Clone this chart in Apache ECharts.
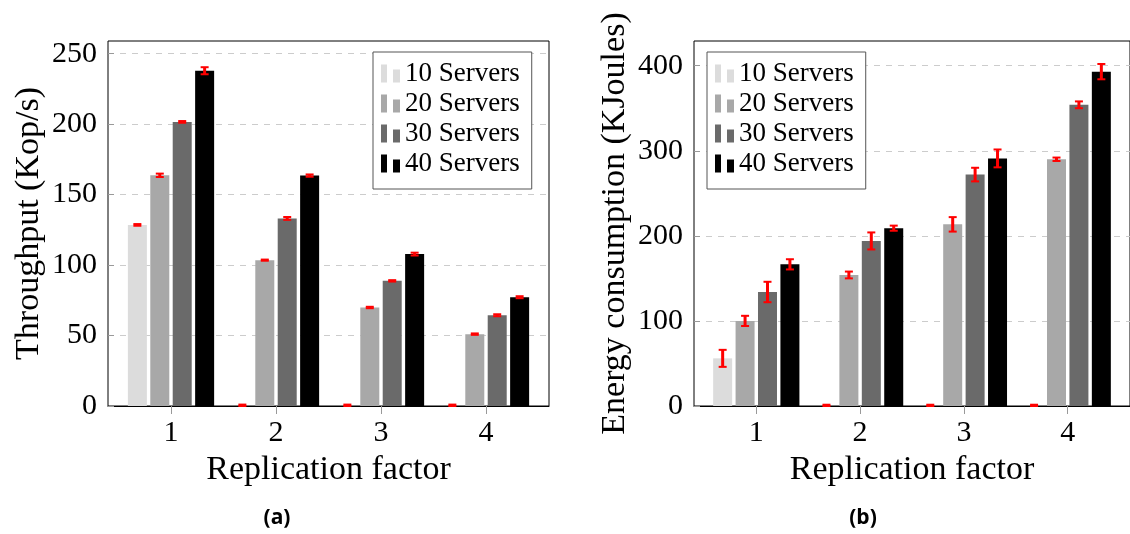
<!DOCTYPE html>
<html><head><meta charset="utf-8">
<script src="https://cdn.jsdelivr.net/npm/echarts@6/dist/echarts.min.js"></script>
<style>html,body{margin:0;padding:0;background:#fff}#c{width:1130px;height:534px}</style>
</head><body><div id="c"></div>
<script>
// ---------- data ----------
const seriesNames = ['10 Servers', '20 Servers', '30 Servers', '40 Servers'];
const replication = [1, 2, 3, 4];
const xTicks = [1, 2, 3, 4];
const thrTicks = [0, 50, 100, 150, 200, 250];
const enTicks = [0, 100, 200, 300, 400];

// (a) Throughput (Kop/s), indexed by replication factor
const thr10 = [128.5, 0, 0, 0];
const thr20 = [163.7, 103.5, 69.9, 51.0];
const thr30 = [201.6, 133.1, 88.8, 64.4];
const thr40 = [237.9, 163.5, 107.8, 77.2];
const thrErr10 = [0.6, 1.0, 1.0, 1.0];
const thrErr20 = [1.2, 0.4, 0.5, 0.5];
const thrErr30 = [0.6, 1.0, 0.5, 0.7];
const thrErr40 = [2.5, 0.8, 1.0, 0.7];

// (b) Energy consumption (KJoules)
const en10 = [56, 0, 0, 0];
const en20 = [100, 154, 213.5, 290];
const en30 = [134, 194, 272, 354];
const en40 = [166.5, 209, 291, 393];
const enErr10 = [10, 1.5, 1.5, 1.5];
const enErr20 = [6, 4, 8.5, 2];
const enErr30 = [12, 10, 8, 4];
const enErr40 = [6, 3, 10.5, 9];

// ---------- styles ----------
const colors = ['#dcdcdc', '#a8a8a8', '#6a6a6a', '#000000'];
const SERIF = 'Liberation Serif';
const BW = 19, GAP = 0.18;
const ICON = 'path://M0,0L6,0L6,18L0,18Z M12,5L19,5L19,18L12,18Z';

function barSeries(g, vals, i) {
  return {
    type: 'bar', name: seriesNames[i], xAxisIndex: g, yAxisIndex: g,
    data: replication.map((x, k) => [x, vals[k]]),
    barWidth: BW, barGap: (GAP * 100) + '%',
    itemStyle: { color: colors[i] }, silent: true
  };
}
function errSeries(g, vals, errs, i) {
  return {
    type: 'custom', name: seriesNames[i] + ' err', xAxisIndex: g, yAxisIndex: g,
    data: replication.map((x, k) => [x, vals[k], errs[k]]),
    z: 5, silent: true,
    renderItem(params, api) {
      const x = api.value(0), y = api.value(1), e = api.value(2);
      const off = (i - 1.5) * (BW * (1 + GAP));
      const top = api.coord([x, y + e]);
      const bot = api.coord([x, Math.max(0, y - e)]);
      const cx = top[0] + off;
      const red = '#ff0000';
      return { type: 'group', children: [
        { type: 'line', shape: { x1: cx, y1: top[1], x2: cx, y2: bot[1] }, style: { stroke: red, lineWidth: 3 } },
        { type: 'line', shape: { x1: cx - 4, y1: top[1], x2: cx + 4, y2: top[1] }, style: { stroke: red, lineWidth: 2 } },
        { type: 'line', shape: { x1: cx - 4, y1: bot[1], x2: cx + 4, y2: bot[1] }, style: { stroke: red, lineWidth: 2 } }
      ]};
    }
  };
}
function xAxis(g) {
  return {
    gridIndex: g, type: 'value', min: 0.4, max: 4.6,
    axisLine: { show: true, lineStyle: { color: '#000', width: 1 } },
    axisTick: { show: true, customValues: xTicks, length: 8, lineStyle: { color: '#999' } },
    axisLabel: { customValues: xTicks, fontFamily: SERIF, fontSize: 30, color: '#000', margin: 12 },
    splitLine: { show: false },
    name: 'Replication factor', nameLocation: 'middle', nameGap: 27,
    nameTextStyle: { fontFamily: SERIF, fontSize: 34, color: '#000' }
  };
}
function yAxis(g, max, interval, ticks, name) {
  return {
    gridIndex: g, type: 'value', min: 0, max: max, interval: interval,
    axisLine: { show: false },
    axisTick: { show: true, inside: true, length: 6, customValues: ticks, lineStyle: { color: '#999' } },
    axisLabel: { customValues: ticks, fontFamily: SERIF, fontSize: 30, color: '#000', margin: 11 },
    splitLine: { show: true, lineStyle: { color: '#cccccc', type: [6, 6], width: 1 } },
    name: name, nameLocation: 'middle', nameGap: 62,
    nameTextStyle: { fontFamily: SERIF, fontSize: 34, color: '#000' }
  };
}
function legend(left) {
  return {
    left: left, top: 52, orient: 'vertical',
    data: seriesNames.map(n => ({ name: n, icon: ICON })),
    itemWidth: 19, itemHeight: 18, itemGap: 3,
    padding: [8, 12, 12, 8],
    borderColor: '#555', borderWidth: 1, borderRadius: 0, backgroundColor: '#fff',
    textStyle: { fontFamily: SERIF, fontSize: 27, color: '#000' },
    selectedMode: false
  };
}

const option = {
  animation: false,
  backgroundColor: '#fff',
  grid: [
    { left: 108, top: 41, width: 441, height: 365, show: true, borderColor: '#000', borderWidth: 1, backgroundColor: 'transparent' },
    { left: 694, top: 41, width: 441, height: 365, show: true, borderColor: '#000', borderWidth: 1, backgroundColor: 'transparent' }
  ],
  xAxis: [xAxis(0), xAxis(1)],
  yAxis: [
    yAxis(0, 259, 50, thrTicks, 'Throughput (Kop/s)'),
    yAxis(1, 429, 100, enTicks, 'Energy consumption (KJoules)')
  ],
  legend: [legend(373), legend(707)],
  series: [
    barSeries(0, thr10, 0), barSeries(0, thr20, 1), barSeries(0, thr30, 2), barSeries(0, thr40, 3),
    barSeries(1, en10, 0), barSeries(1, en20, 1), barSeries(1, en30, 2), barSeries(1, en40, 3),
    errSeries(0, thr10, thrErr10, 0), errSeries(0, thr20, thrErr20, 1), errSeries(0, thr30, thrErr30, 2), errSeries(0, thr40, thrErr40, 3),
    errSeries(1, en10, enErr10, 0), errSeries(1, en20, enErr20, 1), errSeries(1, en30, enErr30, 2), errSeries(1, en40, enErr40, 3)
  ],
  graphic: [
    { type: 'text', x: 277, y: 518, style: { text: '(a)', align: 'center', verticalAlign: 'middle', font: 'bold 21px "Open Sans"', fill: '#000' } },
    { type: 'text', x: 863, y: 518, style: { text: '(b)', align: 'center', verticalAlign: 'middle', font: 'bold 21px "Open Sans"', fill: '#000' } }
  ]
};
const chart = echarts.init(document.getElementById('c'), null, { renderer: 'canvas' });
chart.setOption(option);
</script>
</body></html>
